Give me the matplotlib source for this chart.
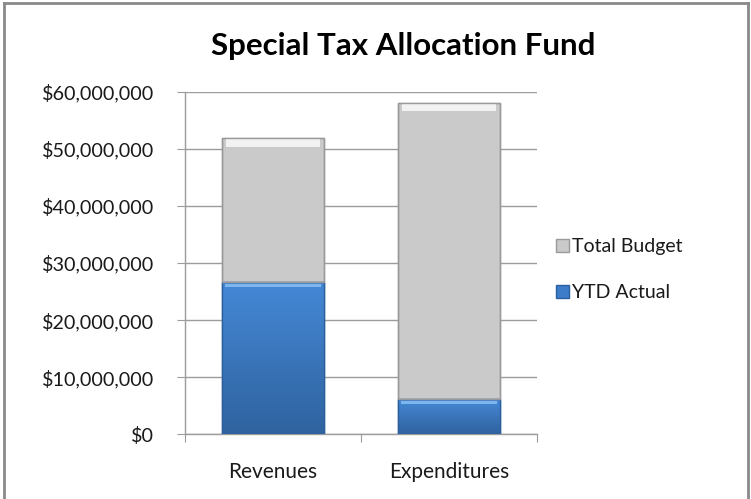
import matplotlib.pyplot as plt
import matplotlib.ticker as mticker
from matplotlib.colors import LinearSegmentedColormap
import numpy as np

categories = ["Revenues", "Expenditures"]
ytd_actual = [26.6e6, 6.1e6]
total_budget = [51.9e6, 58.1e6]
series_names = ["Total Budget", "YTD Actual"]

plt.rcParams['font.family'] = ['Lato', 'DejaVu Sans']

fig = plt.figure(figsize=(7.51, 4.99), dpi=100)
ax = fig.add_axes([0.2463, 0.1297, 0.715 - 0.2463, 0.8162 - 0.1297])

x = np.arange(len(categories))
ytd = np.array(ytd_actual)
tot = np.array(total_budget)
w = 0.58

blue = "#3d7cc9"
grey = "#cacaca"
b1 = ax.bar(x, ytd, w, color=blue, edgecolor="#2c5f9e", linewidth=1.0, zorder=3)
b2 = ax.bar(x, tot - ytd, w, bottom=ytd, color=grey, edgecolor="#9a9a9a", linewidth=1.0, zorder=3)

# vertical gradient inside the blue segments
blue_cmap = LinearSegmentedColormap.from_list("b", ["#2f639f", "#4588d6"])
grad = np.linspace(0, 1, 256).reshape(-1, 1)
for p in b1.patches:
    x0, y0 = p.get_x(), p.get_y()
    im = ax.imshow(grad, cmap=blue_cmap, origin="lower", aspect="auto", zorder=3.5,
                   extent=[x0, x0 + p.get_width(), y0, y0 + p.get_height()])
    im.set_clip_path(p)

# bevel-ish highlight strips along the top of each segment
ax.bar(x, 0.5e6, w * 0.94, bottom=ytd - 0.8e6, color="#7db6ee", linewidth=0, zorder=4)
ax.bar(x, 1.4e6, w * 0.92, bottom=tot - 1.5e6, color="#f2f2f2", linewidth=0, zorder=4)
for p in list(b1.patches) + list(b2.patches):
    ax.add_patch(plt.Rectangle((p.get_x(), p.get_y()), p.get_width(), p.get_height(),
                               fill=False, edgecolor=p.get_edgecolor(), lw=1.0, zorder=5))

ax.set_ylim(0, 60e6)
ax.set_xlim(-0.5, len(categories) - 0.5)
ax.yaxis.set_major_locator(mticker.MultipleLocator(10e6))
ax.yaxis.set_major_formatter(mticker.FuncFormatter(lambda v, p: "${:,.0f}".format(v)))
ax.grid(axis="y", color="#9c9c9c", linewidth=1.0, zorder=0)
ax.set_axisbelow(True)

ax.set_xticks(np.arange(len(categories) + 1) - 0.5)
ax.set_xticklabels([])
ax.set_xticks(x, minor=True)
ax.set_xticklabels(categories, minor=True)
ax.tick_params(axis="x", which="major", length=6, color="#9c9c9c", direction="out")
ax.tick_params(axis="x", which="minor", length=0, pad=20, labelsize=15, labelcolor="#1a1a1a")
ax.tick_params(axis="y", length=6, color="#9c9c9c", pad=16, labelsize=14.2, labelcolor="#1a1a1a")

for s in ["top", "right"]:
    ax.spines[s].set_visible(False)
for s in ["left", "bottom"]:
    ax.spines[s].set_color("#9c9c9c")
    ax.spines[s].set_linewidth(1.0)

fig.text(0.537, 0.908, "Special Tax Allocation Fund", ha="center", va="center",
         fontsize=22.5, fontweight="bold", color="black")

leg = ax.legend([b2, b1], series_names, loc="center left", bbox_to_anchor=(0.717, 0.46),
                bbox_transform=fig.transFigure, frameon=False, fontsize=14,
                handlelength=0.65, handleheight=0.65, handletextpad=0.2, labelspacing=1.5)
for t in leg.get_texts():
    t.set_color("#1a1a1a")

# outer frame: left, top and right edges
fig.add_artist(plt.Line2D([0.0053, 0.0053], [0, 0.994], transform=fig.transFigure, color="#8a8a8a", lw=2))
fig.add_artist(plt.Line2D([0.996, 0.996], [0, 0.994], transform=fig.transFigure, color="#8a8a8a", lw=2))
fig.add_artist(plt.Line2D([0.0053, 0.996], [0.994, 0.994], transform=fig.transFigure, color="#8a8a8a", lw=2))

fig.savefig("out.png", dpi=100)
